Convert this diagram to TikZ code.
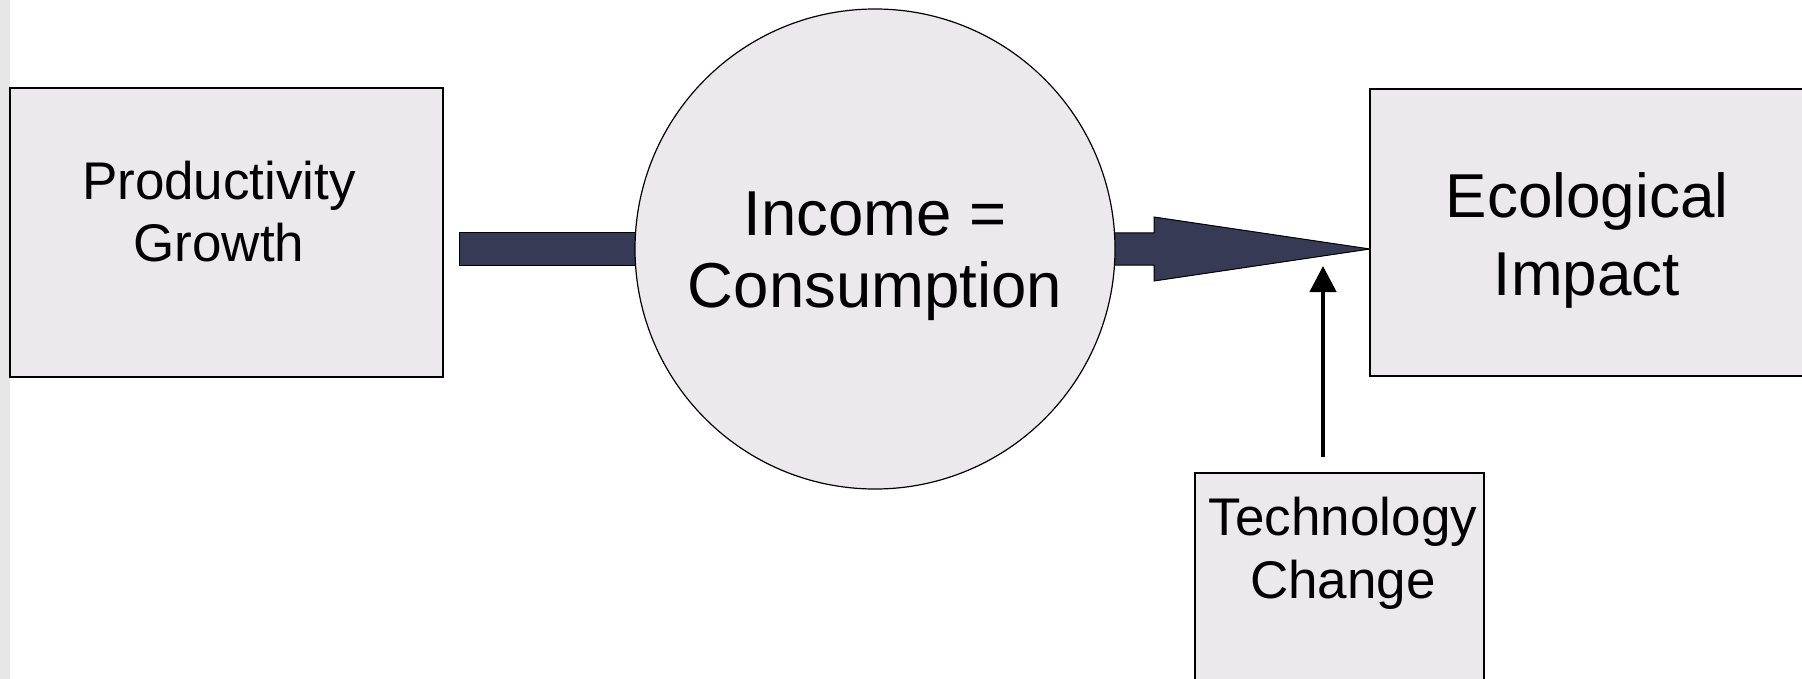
\documentclass[tikz,border=0pt]{standalone}
\usepackage{fontspec}
\setmainfont{Liberation Sans}
\usetikzlibrary{arrows.meta,calc,backgrounds}
\definecolor{boxfill}{HTML}{EBE9EC}
\definecolor{barfill}{HTML}{363A54}
\definecolor{stripgray}{HTML}{E6E6E6}
\tikzset{
 px/.style={x=0.5pt,y=-0.5pt},
 box/.style={draw=black, line width=1pt, fill=boxfill, rectangle, inner sep=0pt, outer sep=0pt},
 bubble/.style={draw=black, line width=0.6pt, fill=boxfill, circle, inner sep=0pt, outer sep=0pt, minimum size=240pt},
 bar/.style={fill=barfill, draw=black, line width=0.5pt, line join=miter},
 thinarrow/.style={-{Triangle[width=13pt,length=13pt]}, line width=2.25pt},
 lbl/.style={anchor=base, inner sep=0pt},
}
\begin{document}
\begin{tikzpicture}[px]
\useasboundingbox (0,0) rectangle (1802,679);
\fill[stripgray] (0,0) rectangle (10,679);
\node[box, minimum width=216.5pt, minimum height=144.5pt] (prod) at (226.5,232.5) {};
\node[bubble] (inc) at (875,249) {};
\node[box, minimum width=216.5pt, minimum height=143.5pt] (eco) at (1586.5,232.5) {};
\node[box, minimum width=144.5pt, minimum height=120pt] (tech) at (1339,593) {};
\node[lbl, font={\fontsize{26.5pt}{31.5pt}\selectfont}] (prodtext) at (219,199) {\begin{tabular}[t]{@{}c@{}}Productivity\\Growth\end{tabular}};
\node[lbl, font={\fontsize{31.75pt}{36pt}\selectfont}] (inctext) at (875,235) {\begin{tabular}[t]{@{}c@{}}Income =\\Consumption\end{tabular}};
\node[lbl, font={\fontsize{31pt}{39pt}\selectfont}] (ecotext) at (1587,218) {\begin{tabular}[t]{@{}c@{}}Ecological\\Impact\end{tabular}};
\node[lbl, font={\fontsize{26.5pt}{31.5pt}\selectfont}] (techtext) at (1343,535) {\begin{tabular}[t]{@{}c@{}}Technology\\Change\end{tabular}};
\begin{scope}[on background layer]
\coordinate (pgend) at ($(prod.east |- inc.center)+(16,0)$);
\filldraw[bar] ($(pgend)+(0,-16)$) rectangle ($(inc.center)+(0,16)$);
\coordinate (tip) at (eco.west |- inc.center);
\filldraw[bar] ($(inc.center)+(0,-16)$) -- ($(tip)+(-216,-16)$) -- ($(tip)+(-216,-32)$) -- (tip) -- ($(tip)+(-216,32)$) -- ($(tip)+(-216,16)$) -- ($(inc.center)+(0,16)$) -- cycle;
\end{scope}
\coordinate (tcstart) at ($(tech.north)+(-16,-16)$);
\coordinate (tcend) at ($(tcstart)+(0,-191)$);
\draw[thinarrow] (tcstart) -- (tcend);
\end{tikzpicture}
\end{document}
